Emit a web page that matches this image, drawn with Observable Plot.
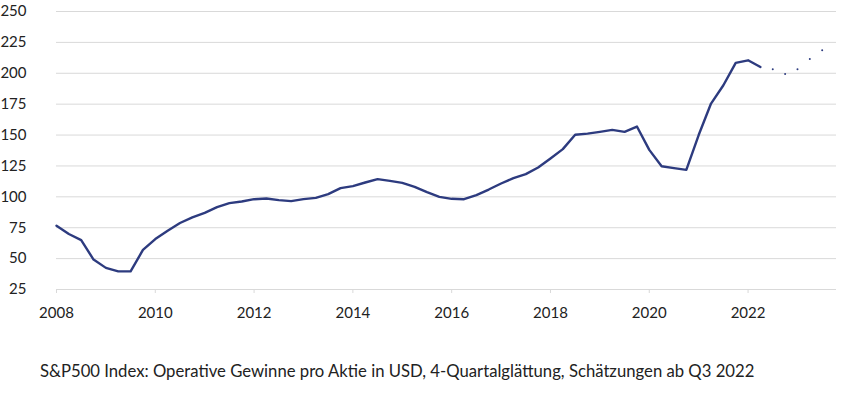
<!DOCTYPE html>
<html>
<head>
<meta charset="utf-8">
<script src="https://cdn.jsdelivr.net/npm/d3@7"></script>
<script src="https://cdn.jsdelivr.net/npm/@observablehq/plot@0.6"></script>
<style>
  body { margin: 0; background: #fff; }
  #chart svg { display: block; }
  #caption { font-family: Lato, "Open Sans", sans-serif; font-size: 16.7px; color: #222; margin: 31px 0 0 40px; line-height: 20px; white-space: nowrap; }
</style>
</head>
<body>
<div id="chart"></div>
<div id="caption">S&amp;P500 Index: Operative Gewinne pro Aktie in USD, 4-Quartalglättung, Schätzungen ab Q3 2022</div>
<script>
// Quarterly series starting 2008 Q1
const startYear = 2008;
const actual = [
  76.6, 69.9, 65.0, 49.2, 42.5, 39.7, 39.7, 57.0,
  65.8, 72.6, 78.8, 83.4, 87.0, 91.6, 94.9, 96.2,
  98.1, 98.6, 97.3, 96.5, 98.1, 99.2, 102.2, 107.0,
  108.7, 111.6, 114.3, 112.9, 111.3, 108.1, 103.8, 100.0,
  98.4, 98.1, 101.4, 105.9, 110.8, 115.1, 118.4, 123.7,
  131.0, 138.6, 150.2, 151.2, 152.6, 154.2, 152.6, 156.9,
  138.0, 124.8, 123.2, 121.8, 150.0, 175.5, 190.3, 208.4,
  210.5, 205.1
];
// Estimates from 2022 Q3
const estimates = [203.2, 199.4, 203.2, 211.6, 218.6];
const xTicks = [2008, 2010, 2012, 2014, 2016, 2018, 2020, 2022];
const yTicks = [25, 50, 75, 100, 125, 150, 175, 200, 225, 250];

const lineColor = "#2d3b7f";
const gridColor = "#d9d9d9";

const actualData = actual.map((v, i) => ({t: startYear + i / 4, v}));
const estData = estimates.map((v, i) => ({t: startYear + (actual.length + i) / 4, v}));

const chart = Plot.plot({
  width: 850,
  height: 330,
  marginLeft: 56,
  marginRight: 14,
  marginTop: 11,
  marginBottom: 41,
  style: { fontFamily: "Lato, 'Open Sans', sans-serif", fontSize: "15px", color: "#222", background: "#fff" },
  x: { domain: [2008, 2023.79] },
  y: { domain: [25, 250] },
  marks: [
    Plot.gridY(yTicks, { stroke: gridColor, strokeOpacity: 1, strokeWidth: 1 }),
    Plot.axisY(yTicks, { tickSize: 0, tickPadding: 30, fill: "#222", fontSize: 15, label: null }),
    Plot.axisX(xTicks, { tickSize: 4, tickPadding: 14, stroke: gridColor, fill: "#222", fontSize: 15, tickFormat: d => String(d), label: null }),
    Plot.line(actualData, { x: "t", y: "v", stroke: lineColor, strokeWidth: 2.4 }),
    Plot.dot(estData, { x: "t", y: "v", r: 1, fill: lineColor, stroke: null })
  ]
});
document.getElementById("chart").append(chart);
</script>
</body>
</html>
